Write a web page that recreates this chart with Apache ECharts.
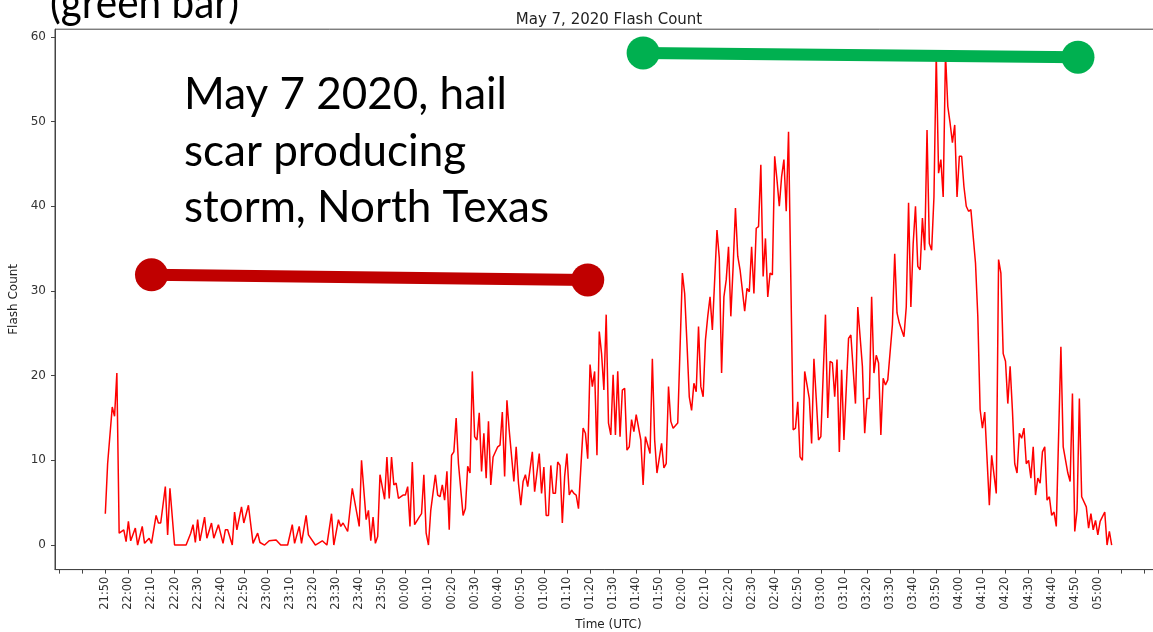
<!DOCTYPE html>
<html>
<head>
<meta charset="utf-8">
<script src="https://cdn.jsdelivr.net/npm/echarts@6/dist/echarts.min.js"></script>
<style>
html,body{margin:0;padding:0;background:#fff;}
#chart{width:1153px;height:632px;}
</style>
</head>
<body>
<div id="chart"></div>
<script>
const minutesFromStart = [
  0,1,3,4,5,6,8,9,10,11,
  13,14,16,17,19,20,22,23,24,26,
  27,28,30,35,37,38,39,40,41,43,
  44,46,47,49,51,52,53,55,56,57,
  59,60,62,64,66,67,69,71,74,76,
  79,81,82,84,85,87,88,91,94,96,
  98,99,101,102,103,105,107,109,110,111,
  113,114,115,116,117,118,119,121,122,123,
  124,125,126,127,129,130,131,132,133,134,
  136,137,138,139,140,141,143,144,145,146,
  147,148,149,150,151,152,153,155,156,157,
  158,159,160,161,162,163,164,165,166,167,
  168,170,171,172,173,174,175,177,178,179,
  180,181,182,183,185,186,188,189,190,191,
  192,193,194,195,196,197,198,199,200,201,
  202,203,204,205,207,208,209,210,211,212,
  213,214,215,216,217,218,219,220,221,222,
  223,224,225,226,227,228,229,230,232,233,
  234,236,237,238,239,241,242,243,244,245,
  246,248,250,251,252,253,254,255,256,257,
  258,259,260,261,262,263,265,266,267,268,
  269,270,271,272,273,274,275,276,277,278,
  279,280,281,282,283,284,285,286,287,288,
  289,290,291,292,293,294,295,296,298,299,
  300,301,302,303,304,305,306,307,308,309,
  310,312,313,314,315,316,317,318,319,320,
  322,323,325,326,328,329,330,331,332,333,
  334,335,336,337,338,339,341,342,343,344,
  346,347,348,349,350,351,352,353,354,355,
  356,357,358,359,360,361,362,363,364,365,
  366,367,368,369,370,371,372,373,374,375,
  377,378,379,380,381,383,384,386,387,388,
  389,390,391,392,393,394,395,396,397,398,
  399,400,401,402,403,404,405,406,407,408,
  409,410,411,412,414,415,417,418,419,420,
  421,422,423,425,426,427,428,429,430,431,
  433,434,435,436
];
const flashCount = [
  3.7,9.6,16.3,15.2,20.3,1.4,1.8,0.4,2.8,0.5,
  2.0,0,2.2,0.2,0.8,0.2,3.5,2.6,2.6,6.9,
  1.2,6.7,0,0,1.4,2.4,0.3,3.0,0.5,3.3,
  0.8,2.6,0.8,2.4,0.2,1.8,1.8,0,3.9,1.8,
  4.5,2.6,4.7,0.2,1.4,0.3,0,0.5,0.6,0,
  0,2.4,0.2,2.2,0.2,3.5,1.2,0,0.5,0,
  3.7,0,3.0,2.2,2.6,1.6,6.7,3.7,2.2,10.0,
  3.0,4.1,0.5,3.3,0.2,1.0,8.3,5.4,10.4,5.5,
  10.4,7.1,7.3,5.5,5.9,5.9,6.9,2.2,9.8,2.4,
  3.3,3.7,8.3,1.4,0,4.1,8.3,5.9,5.7,7.1,
  5.3,8.7,1.8,10.6,11,15.0,9.6,3.5,4.3,9.3,
  8.5,20.5,12.8,12.4,15.6,8.7,13.2,7.9,14.6,7.1,
  10.4,11.6,11.8,15.7,8.1,17.1,13.5,7.5,11.6,7.3,
  4.7,7.5,8.3,6.9,11,6.3,10.8,6.1,9.2,3.5,
  3.5,9.4,6.1,6.1,9.8,9.4,2.6,8.1,10.8,5.9,
  6.5,6.1,5.9,4.3,13.8,13.2,10.2,21.3,18.7,20.5,
  10.6,25.2,22.6,18.3,27.2,14.4,13.0,20.1,13.0,20.5,
  12.8,18.3,18.5,11.2,11.6,14.8,13.4,15.4,12.4,7.1,
  12.8,10.8,22.0,12.4,8.5,12.0,9.1,9.6,18.7,14.6,
  13.8,14.4,32.1,29.7,23.8,17.5,15.9,19.1,18.1,25.8,
  18.7,17.5,24.2,27.0,29.3,25.4,37.2,33.9,20.3,29.3,
  31.3,35.2,27.0,32.9,39.8,34.1,32.5,30.1,27.6,30.3,
  29.9,35.2,29.7,37.4,37.6,44.9,31.7,36.2,29.3,32.1,
  31.9,45.9,43.1,40.0,43.5,45.5,39.4,48.8,13.6,13.8,
  16.9,10.4,10.0,20.5,18.9,17.3,12.0,22.0,17.3,12.4,
  12.8,27.2,15.0,21.7,21.5,17.5,21.9,11.0,20.7,12.4,
  24.4,24.8,16.7,28.1,21.1,13.2,17.3,17.3,29.3,20.3,
  22.4,21.5,13.0,19.7,18.9,19.5,26.0,34.4,27.4,26.2,
  24.6,28.1,40.4,28.1,35.6,40.0,32.9,32.5,38.6,34.8,
  49.0,35.6,34.8,41.1,58.0,43.9,45.5,41.1,58.0,51.8,
  49.8,47.5,49.6,41.1,45.9,45.9,42.3,40.0,39.4,39.6,
  33.3,27.0,16.0,13.8,15.7,4.7,10.6,6.1,33.7,32.1,
  22.6,21.7,16.7,21.1,15.9,9.6,8.5,13.2,12.6,13.8,
  9.6,10.0,7.9,11.6,5.9,7.9,7.3,11.0,11.6,5.3,
  5.7,3.5,3.9,2.2,23.4,11.6,8.5,7.5,17.9,1.6,
  4.1,17.3,5.7,4.5,2.0,3.7,1.8,2.9,1.2,2.8,
  3.9,0,1.6,0
];

// X tick labels, one every 10 minutes starting at 21:50
const timeTickLabels = [
  '21:50','22:00','22:10','22:20','22:30','22:40','22:50',
  '23:00','23:10','23:20','23:30','23:40','23:50',
  '00:00','00:10','00:20','00:30','00:40','00:50',
  '01:00','01:10','01:20','01:30','01:40','01:50',
  '02:00','02:10','02:20','02:30','02:40','02:50',
  '03:00','03:10','03:20','03:30','03:40','03:50',
  '04:00','04:10','04:20','04:30','04:40','04:50','05:00'
];
const yTickValues = [0, 10, 20, 30, 40, 50, 60];

// Annotation bars, in chart units [minutes after 21:50, flash count]
const redBarEnds = [[20, 31.9], [209, 31.3]];
const greenBarEnds = [[233, 58.1], [421.4, 57.6]];

const annotationLines = ['May 7 2020, hail', 'scar producing', 'storm, North Texas'];
const topCaption = '(green bar)';

const tickStep = 10;
const xLabelValues = timeTickLabels.map((_, i) => i * tickStep);
const xTickValues = [];
for (let v = -20; v <= 450; v += tickStep) xTickValues.push(v);

const lineData = minutesFromStart.map((m, i) => [m, flashCount[i]]);

const chart = echarts.init(document.getElementById('chart'), null, {renderer: 'canvas'});
const tickFont = 'DejaVu Sans';
const annFont = 'Lato';

const graphic = annotationLines.map((t, i) => ({
  type: 'text',
  x: 184,
  y: 95 + i * 56.5,
  z: 100,
  style: {text: t, font: '44px ' + annFont, fill: '#000', align: 'left', verticalAlign: 'middle'}
}));
graphic.push({
  type: 'text', x: 50, y: 4, z: 100, scaleX: 0.92,
  style: {text: topCaption, font: '44px ' + annFont, fill: '#000', align: 'left', verticalAlign: 'middle'}
});

chart.setOption({
  animation: false,
  backgroundColor: '#ffffff',
  title: {
    text: 'May 7, 2020 Flash Count',
    left: 604, top: 8, textAlign: 'center',
    textStyle: {fontFamily: tickFont, fontSize: 15, fontWeight: 'normal', color: '#222'}
  },
  grid: {
    left: 55, top: 29.2, width: 1107, height: 540.4,
    outerBoundsMode: 'none', containLabel: false,
    show: true, borderColor: '#444', borderWidth: 1, backgroundColor: 'transparent'
  },
  xAxis: {
    type: 'value', min: -21.8, max: 457.8,
    name: 'Time (UTC)', nameLocation: 'middle', nameGap: 49,
    nameTextStyle: {fontFamily: tickFont, fontSize: 12, color: '#222'},
    axisLine: {show: true, onZero: false, lineStyle: {color: '#444', width: 1}},
    axisTick: {show: true, length: 4, customValues: xTickValues, lineStyle: {color: '#444'}},
    axisLabel: {
      show: true, rotate: 90, margin: 7, customValues: xLabelValues,
      fontFamily: tickFont, fontSize: 11.5, color: '#333',
      formatter: v => timeTickLabels[Math.round(v / tickStep)] || ''
    },
    splitLine: {show: false}
  },
  yAxis: {
    type: 'value', min: -2.9, max: 60.9,
    name: 'Flash Count', nameLocation: 'middle', nameGap: 33, nameRotate: 90,
    nameTextStyle: {fontFamily: tickFont, fontSize: 12, color: '#222'},
    axisLine: {show: true, onZero: false, lineStyle: {color: '#444', width: 1}},
    axisTick: {show: true, length: 4, customValues: yTickValues, lineStyle: {color: '#444'}},
    axisLabel: {
      show: true, margin: 9, customValues: yTickValues,
      fontFamily: tickFont, fontSize: 12, color: '#333'
    },
    splitLine: {show: false}
  },
  series: [
    {
      name: 'Flash Count', type: 'line', data: lineData,
      showSymbol: false, symbol: 'none', z: 2,
      lineStyle: {color: '#ff0000', width: 1.5}
    },
    {
      name: 'red bar', type: 'line', data: redBarEnds,
      symbol: 'circle', symbolSize: 33, showSymbol: true, z: 5, clip: false,
      itemStyle: {color: '#c00000'},
      lineStyle: {color: '#c00000', width: 12}
    },
    {
      name: 'green bar', type: 'line', data: greenBarEnds,
      symbol: 'circle', symbolSize: 33, showSymbol: true, z: 5, clip: false,
      itemStyle: {color: '#00b050'},
      lineStyle: {color: '#00b050', width: 12}
    }
  ],
  graphic: graphic
});
</script>
</body>
</html>
